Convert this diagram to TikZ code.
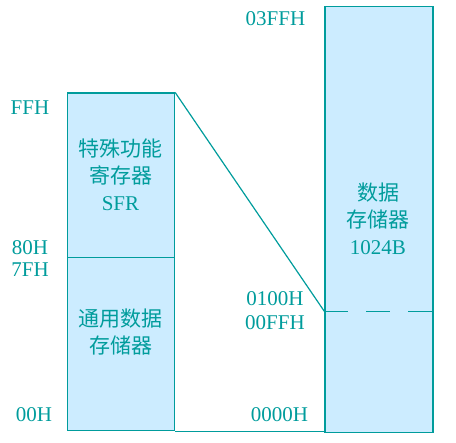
\documentclass[tikz,border=0pt]{standalone}
\usepackage{fontspec}
\setmainfont{Liberation Serif}
\newfontfamily\cjk{Noto Sans CJK SC}
\definecolor{tealc}{HTML}{009C9C}
\definecolor{boxfill}{HTML}{CCECFF}
\begin{document}
\begin{tikzpicture}[x=1pt,y=-1pt,
  box/.style={draw=tealc, line width=1.2pt, fill=boxfill, inner sep=0pt, anchor=north west},
  lbl/.style={text=tealc, font=\fontsize{21}{27}\selectfont, inner sep=0pt},
  intext/.style={lbl, align=center},
  conn/.style={draw=tealc, line width=1.2pt}]
\useasboundingbox (0,0) rectangle (456,443);
\node[box, minimum width=107pt, minimum height=165pt] (sfr) at (67,92.5) {};
\node[box, minimum width=107pt, minimum height=173pt] (gen) at (67,257.3) {};
\node[box, minimum width=108pt, minimum height=426pt] (mem) at (324.3,6) {};
\coordinate (split) at (324.3,311.3);
\coordinate (splitE) at (432.3,311.3);
\draw[conn] (sfr.north east) -- (split);
\draw[conn] (gen.south east) -- (gen.south east -| mem.west);
\draw[conn, dash pattern=on 24pt off 18pt] (split) -- (splitE);
\node[intext] (t1) at (120.5,175) {{\cjk 特殊功能}\\{\cjk 寄存器}\\SFR};
\node[intext] (t2) at (120.5,332.5) {{\cjk 通用数据}\\{\cjk 存储器}};
\node[intext] (t3) at (378,219) {{\cjk 数据}\\{\cjk 存储器}\\1024B};
\node[lbl] (l1) at (30,108) {FFH};
\node[lbl] (l2) at (30,248) {80H};
\node[lbl] (l3) at (30,270) {7FH};
\node[lbl] (l4) at (34,415) {00H};
\node[lbl] (l5) at (275.5,19) {03FFH};
\node[lbl] (l6) at (275,299) {0100H};
\node[lbl] (l7) at (275,323) {00FFH};
\node[lbl] (l8) at (279.5,415) {0000H};
\end{tikzpicture}
\end{document}
